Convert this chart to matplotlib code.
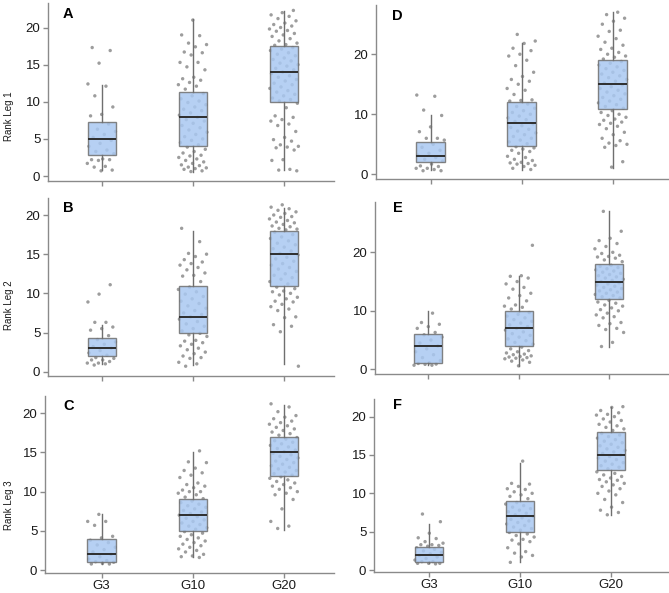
import matplotlib
matplotlib.use("Agg")
import matplotlib.pyplot as plt
import numpy as np

plt.rcParams['font.family'] = ['Liberation Sans', 'DejaVu Sans']

groups = ["G3", "G10", "G20"]
panel_letters = ["A", "B", "C", "D", "E", "F"]
ylabels = ["Rank Leg 1", "Rank Leg 2", "Rank Leg 3"]

# box stats per panel/group: (whislo, q1, median, q3, whishi)
box_A = [(0.8, 2.8, 5.0, 7.3, 12.3), (0.6, 4.0, 8.0, 11.3, 21.1), (0.8, 10.0, 14.0, 17.5, 22.2)]
box_B = [(1.0, 2.0, 3.0, 4.3, 6.0), (0.8, 5.0, 7.0, 11.0, 18.0), (1.0, 11.0, 15.0, 18.0, 20.9)]
box_C = [(0.8, 1.0, 2.0, 4.0, 7.1), (1.6, 5.0, 7.0, 9.0, 15.0), (5.1, 12.0, 15.0, 17.0, 21.0)]
box_D = [(0.8, 2.0, 3.0, 5.3, 9.9), (0.8, 4.7, 8.5, 12.0, 21.9), (1.0, 10.8, 15.0, 19.0, 27.0)]
box_E = [(0.8, 1.0, 4.0, 6.0, 9.9), (0.5, 4.0, 7.0, 10.0, 16.0), (3.9, 12.0, 15.0, 18.0, 27.1)]
box_F = [(0.9, 1.0, 2.0, 3.0, 6.0), (1.0, 5.0, 7.0, 9.0, 14.0), (7.2, 13.0, 15.0, 18.0, 21.3)]

# individual points per panel/group
pts_A_G3 = [17.3, 16.9, 15.2, 12.4, 12.1, 10.8, 9.3, 8.3, 8.1, 7.0, 6.3, 6.0, 5.6, 5.2, 4.8, 4.4, 4.0, 3.5,
            3.3, 3.0, 2.3, 2.2, 2.2, 2.1, 1.7, 1.3, 1.2, 0.8, 0.7]
pts_A_G10 = [21.0, 19.0, 18.9, 17.9, 17.7, 17.4, 16.7, 16.6, 16.3, 15.3, 15.3, 14.7, 14.3, 13.3, 13.1, 12.9,
             12.6, 12.3, 12.1, 11.7, 11.1, 10.8, 10.4, 10.1, 9.9, 9.6, 9.3, 9.0, 8.8, 8.5, 8.2, 7.9, 7.6,
             7.4, 7.1, 6.8, 6.5, 6.2, 5.9, 5.6, 5.3, 5.0, 4.8, 4.5, 4.2, 3.9, 3.6, 3.3, 3.1, 2.8, 2.7, 2.5,
             2.3, 2.1, 1.9, 1.7, 1.5, 1.4, 1.2, 1.1, 1.0, 0.9, 0.7, 0.6]
pts_A_G20 = [22.3, 22.0, 21.7, 21.5, 21.2, 20.9, 20.6, 20.4, 20.2, 20.0, 19.8, 19.6, 19.5, 19.2, 19.0, 18.8,
             18.5, 18.2, 17.9, 17.7, 17.6, 17.3, 17.1, 16.9, 16.6, 16.4, 16.2, 15.9, 15.7, 15.5, 15.2, 15.0,
             14.8, 14.5, 14.3, 14.0, 13.8, 13.5, 13.3, 13.0, 12.8, 12.5, 12.3, 12.0, 11.8, 11.5, 11.3, 11.0,
             10.8, 10.5, 10.3, 10.1, 9.8, 9.2, 8.1, 7.9, 7.6, 7.4, 7.0, 6.8, 6.0, 5.2, 4.9, 4.7, 4.2, 4.0,
             3.9, 3.8, 3.5, 2.2, 2.1, 0.9, 0.8, 0.7]

pts_B_G3 = [11.1, 9.9, 8.9, 6.3, 6.3, 5.7, 5.5, 5.3, 4.6, 4.1, 3.8, 3.5, 3.2, 3.0, 2.7, 2.4, 2.1, 1.8, 1.7,
            1.5, 1.5, 1.3, 1.1, 1.1, 1.0, 0.85]
pts_B_G10 = [18.3, 16.6, 15.1, 15.0, 14.7, 14.3, 14.0, 13.8, 13.6, 13.3, 13.0, 12.6, 12.3, 12.2, 11.5, 10.8,
             10.5, 10.2, 9.9, 9.6, 9.3, 9.0, 8.7, 8.4, 8.1, 7.8, 7.5, 7.3, 7.0, 6.7, 6.4, 6.1, 5.8, 5.5, 5.2,
             4.9, 4.7, 4.5, 4.0, 3.9, 3.7, 3.5, 3.3, 3.0, 2.8, 2.5, 2.3, 2.0, 1.8, 1.7, 1.2, 1.0, 0.7]
pts_B_G20 = [21.3, 21.0, 20.8, 20.6, 20.4, 20.2, 20.0, 19.8, 19.7, 19.5, 19.3, 19.1, 19.0, 18.8, 18.6, 18.5,
             18.3, 18.2, 18.1, 17.8, 17.5, 17.2, 17.0, 16.7, 16.4, 16.2, 15.9, 15.7, 15.4, 15.1, 14.9, 14.6,
             14.4, 14.1, 13.8, 13.6, 13.3, 13.1, 12.8, 12.5, 12.3, 12.0, 11.8, 11.5, 11.2, 10.8, 10.6, 10.3,
             10.2, 10.0, 9.8, 9.5, 9.3, 9.0, 8.9, 8.6, 8.3, 8.0, 7.8, 7.0, 6.9, 6.0, 5.8, 5.1, 0.7]

pts_C_G3 = [7.1, 6.2, 6.2, 5.7, 4.3, 4.1, 3.8, 3.5, 3.2, 2.9, 2.6, 2.3, 2.0, 1.7, 1.4, 1.2, 1.06, 1.0, 0.85,
            0.77, 0.77]
pts_C_G10 = [15.2, 13.8, 13.7, 13.0, 12.7, 12.4, 12.1, 11.8, 11.1, 10.9, 10.7, 10.5, 10.2, 10.0, 10.0, 9.8,
             9.6, 9.3, 9.1, 8.8, 8.6, 8.4, 8.2, 8.0, 7.8, 7.6, 7.4, 7.2, 7.0, 6.8, 6.6, 6.4, 6.2, 6.0, 5.8,
             5.6, 5.4, 5.2, 4.9, 4.7, 4.5, 4.3, 4.1, 3.9, 3.7, 3.5, 3.3, 3.1, 2.9, 2.7, 2.5, 2.3, 2.0, 1.8,
             1.7, 1.6]
pts_C_G20 = [21.2, 20.8, 20.2, 19.7, 19.5, 19.3, 19.0, 18.8, 18.6, 18.4, 18.2, 18.0, 17.8, 17.6, 17.4, 17.2,
             16.9, 16.7, 16.5, 16.3, 16.1, 15.9, 15.7, 15.5, 15.3, 15.1, 14.9, 14.7, 14.5, 14.3, 14.1, 13.9,
             13.7, 13.5, 13.3, 13.1, 12.9, 12.7, 12.5, 12.3, 12.1, 11.9, 11.7, 11.5, 11.3, 11.1, 10.9, 10.7,
             10.5, 10.3, 10.0, 9.8, 9.6, 9.0, 7.8, 6.2, 5.6, 5.3]

pts_D_G3 = [13.2, 13.0, 10.7, 9.8, 7.9, 7.1, 6.0, 6.0, 5.7, 5.0, 4.5, 4.0, 3.5, 3.2, 2.8, 2.5, 2.2, 1.7, 1.4,
            1.3, 1.0, 1.0, 0.8, 0.6, 0.6]
pts_D_G10 = [23.3, 22.2, 21.8, 21.0, 20.6, 20.0, 19.7, 19.0, 18.1, 17.0, 16.3, 15.8, 15.5, 15.0, 14.3, 14.0,
             13.3, 12.4, 12.3, 12.2, 11.7, 11.3, 11.0, 10.6, 10.3, 10.0, 9.7, 9.4, 9.1, 8.8, 8.4, 8.1, 7.8,
             7.5, 7.2, 6.9, 6.6, 6.3, 6.0, 5.7, 5.4, 5.1, 4.6, 4.4, 4.2, 4.0, 3.8, 3.5, 3.0, 2.8, 2.5, 2.3,
             2.0, 1.9, 1.8, 1.7, 1.5, 1.3, 1.0, 0.8]
pts_D_G20 = [27.0, 26.6, 26.0, 25.5, 25.0, 24.0, 23.8, 23.0, 22.6, 22.0, 21.5, 21.0, 20.8, 20.3, 20.0, 19.7,
             19.5, 19.2, 18.8, 18.5, 18.2, 17.9, 17.6, 17.3, 17.0, 16.7, 16.4, 16.1, 15.8, 15.5, 15.2, 14.9,
             14.6, 14.3, 14.0, 13.7, 13.4, 13.1, 12.8, 12.5, 12.2, 11.9, 11.6, 11.3, 11.0, 10.6, 10.3, 10.0,
             9.8, 9.5, 9.2, 9.0, 8.7, 8.5, 8.3, 8.0, 7.6, 7.0, 6.6, 6.0, 5.6, 5.2, 5.0, 4.8, 4.5, 2.1, 1.2]

pts_E_G3 = [9.6, 8.0, 7.7, 7.3, 7.0, 6.3, 5.9, 5.5, 5.0, 4.5, 4.0, 3.5, 3.0, 2.5, 2.0, 1.5, 1.1, 1.0, 0.9,
            0.85, 0.7, 0.7]
pts_E_G10 = [21.2, 16.0, 15.9, 15.6, 15.0, 14.6, 14.0, 13.7, 13.0, 12.6, 12.2, 11.7, 11.0, 10.8, 10.6, 10.3,
             9.7, 9.4, 9.1, 8.8, 8.5, 8.2, 7.9, 7.6, 7.3, 7.0, 6.7, 6.4, 6.1, 5.8, 5.5, 5.2, 4.9, 4.6, 4.3,
             3.8, 3.5, 3.2, 3.0, 2.8, 2.6, 2.5, 2.3, 2.2, 2.1, 2.0, 1.9, 1.8, 1.6, 1.4, 1.2, 0.6]
pts_E_G20 = [27.0, 23.6, 22.4, 22.0, 21.5, 21.0, 20.6, 20.0, 19.8, 19.5, 19.3, 19.2, 19.0, 18.7, 18.4, 17.8,
             17.6, 17.4, 17.2, 17.0, 16.8, 16.6, 16.4, 16.2, 16.0, 15.8, 15.6, 15.4, 15.2, 15.0, 14.8, 14.6,
             14.4, 14.2, 14.0, 13.8, 13.6, 13.4, 13.2, 13.0, 12.8, 12.6, 12.4, 12.2, 11.8, 11.5, 11.3, 11.0,
             10.8, 10.5, 10.2, 10.0, 9.6, 9.3, 9.0, 8.8, 8.0, 7.8, 7.5, 7.0, 6.8, 6.3, 4.6, 3.9]

pts_F_G3 = [7.3, 6.3, 4.8, 4.2, 4.1, 3.7, 3.5, 3.3, 3.3, 3.2, 3.1, 2.9, 2.7, 2.5, 2.3, 2.1, 1.9, 1.7, 1.5,
            1.3, 1.1, 1.09, 0.87, 0.87, 0.87, 0.8]
pts_F_G10 = [14.2, 11.3, 11.2, 10.9, 10.6, 10.5, 10.2, 10.0, 9.8, 9.6, 9.3, 8.8, 8.6, 8.4, 8.2, 8.0, 7.8, 7.6,
             7.4, 7.2, 7.0, 6.8, 6.6, 6.4, 6.2, 6.0, 5.8, 5.6, 5.4, 5.2, 4.9, 4.7, 4.5, 4.3, 4.0, 3.9, 3.7,
             3.4, 2.9, 2.4, 2.2, 1.9, 1.7, 1.0]
pts_F_G20 = [21.3, 21.2, 20.8, 20.5, 20.3, 20.2, 20.0, 19.7, 19.5, 19.3, 19.0, 18.8, 18.6, 18.4, 18.2, 17.8,
             17.6, 17.4, 17.2, 17.0, 16.8, 16.6, 16.4, 16.2, 16.0, 15.8, 15.6, 15.4, 15.2, 15.0, 14.8, 14.6,
             14.4, 14.2, 14.0, 13.8, 13.6, 13.4, 13.2, 12.8, 12.6, 12.4, 12.2, 12.0, 11.8, 11.7, 11.5, 11.3,
             11.1, 10.9, 10.6, 10.3, 10.0, 9.8, 9.2, 8.8, 8.2, 7.8, 7.5, 7.2]

boxes = {"A": box_A, "B": box_B, "C": box_C, "D": box_D, "E": box_E, "F": box_F}
points = {
    "A": [pts_A_G3, pts_A_G10, pts_A_G20],
    "B": [pts_B_G3, pts_B_G10, pts_B_G20],
    "C": [pts_C_G3, pts_C_G10, pts_C_G20],
    "D": [pts_D_G3, pts_D_G10, pts_D_G20],
    "E": [pts_E_G3, pts_E_G10, pts_E_G20],
    "F": [pts_F_G3, pts_F_G10, pts_F_G20],
}

W, H = 669, 593
fig = plt.figure(figsize=(W / 100, H / 100), dpi=100)

# layout in pixels: (left, top, right, bottom, ymin, ymax, yticks, xlim)
layout = {
    "A": (48, 3, 334, 181, -0.67, 23.3, [0, 5, 10, 15, 20], (0.41, 3.55)),
    "B": (48, 198, 334, 376, -0.55, 22.17, [0, 5, 10, 15, 20], (0.41, 3.55)),
    "C": (45, 396, 334, 573, -0.38, 22.2, [0, 5, 10, 15, 20], (0.38, 3.55)),
    "D": (376, 5, 668, 179, -0.78, 28.2, [0, 10, 20], (0.40, 3.61)),
    "E": (375, 202, 668, 374, -0.8, 28.6, [0, 10, 20], (0.41, 3.65)),
    "F": (374, 399, 668, 572, -0.26, 22.3, [0, 5, 10, 15, 20], (0.39, 3.63)),
}
letter_pos = {"A": (63, 18.5), "B": (63, 212), "C": (63, 410),
              "D": (392, 20), "E": (393, 212), "F": (393, 409)}
ylabel_pos = {"A": (9, 116), "B": (9, 305), "C": (9, 505)}

spine_col = "#8a8a8a"
box_face = "#a9c8f1"
box_edge = "#6f6f6f"
golden = 0.6180339887

for key in panel_letters:
    l, t, r, b, ymin, ymax, yt, xl = layout[key]
    ax = fig.add_axes([l / W, 1 - b / H, (r - l) / W, (b - t) / H])
    ax.set_xlim(*xl)
    ax.set_ylim(ymin, ymax)
    for s in ["top", "right"]:
        ax.spines[s].set_visible(False)
    for s in ["left", "bottom"]:
        ax.spines[s].set_color(spine_col)
        ax.spines[s].set_linewidth(1.0)
    ax.tick_params(colors=spine_col, length=3.5, width=1, labelsize=9.5, labelcolor="#1a1a1a", pad=2)
    ax.tick_params(axis="x", pad=1.5)
    ax.set_yticks(yt)
    ax.set_xticks([1, 2, 3])
    if key in ("C", "F"):
        ax.set_xticklabels(groups, fontsize=9.5)
    else:
        ax.set_xticklabels([])
    ax.set_facecolor("none")

    # jittered points
    for gi, vals in enumerate(points[key]):
        vals = np.asarray(vals)
        n = len(vals)
        offs = (((np.arange(n) + gi * 7 + ord(key)) * golden) % 1.0 - 0.5) * 0.32
        ax.scatter(gi + 1 + offs, vals, s=6, color="#4d4d4d", alpha=0.55,
                   edgecolors="none", zorder=2)

    stats = []
    for gi, (wl, q1, med, q3, wh) in enumerate(boxes[key]):
        stats.append(dict(whislo=wl, q1=q1, med=med, q3=q3, whishi=wh, fliers=[]))
    ax.bxp(stats, positions=[1, 2, 3], widths=0.31, showfliers=False, showcaps=False,
           patch_artist=True, manage_ticks=False,
           boxprops=dict(facecolor=box_face, edgecolor=box_edge, linewidth=1.0, alpha=0.85),
           whiskerprops=dict(color=box_edge, linewidth=1.0),
           medianprops=dict(color="#2e2e2e", linewidth=1.4), zorder=3)

    lx, ly = letter_pos[key]
    fig.text(lx / W, 1 - ly / H, key, fontsize=10.5, fontweight="bold", va="baseline", ha="left")

for key, lab in zip(["A", "B", "C"], ylabels):
    x, y = ylabel_pos[key]
    fig.text(x / W, 1 - y / H, lab, rotation=90, fontsize=7, va="center", ha="center",
             color="#1a1a1a")

fig.savefig("out.png", dpi=100)
